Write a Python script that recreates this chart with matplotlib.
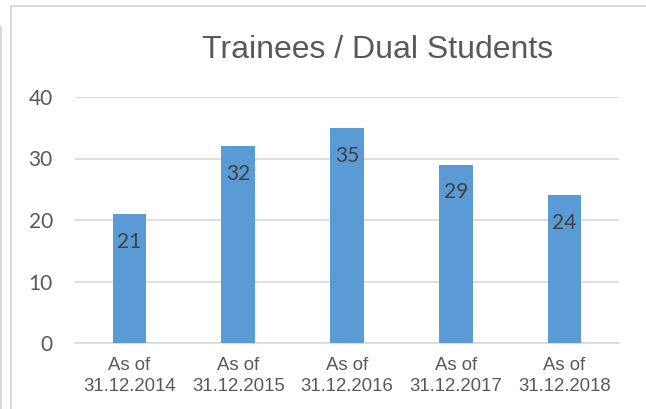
import matplotlib.pyplot as plt
from matplotlib.lines import Line2D

categories = ["As of\n31.12.2014", "As of\n31.12.2015", "As of\n31.12.2016",
              "As of\n31.12.2017", "As of\n31.12.2018"]
values = [21, 32, 35, 29, 24]
y_ticks = [0, 10, 20, 30, 40]

BAR = "#5B9BD5"
TEXT = "#595959"
GRID = "#D9D9D9"

fig = plt.figure(figsize=(6.46, 4.09), dpi=100)
ax = fig.add_axes([75 / 646, 66 / 409, 544 / 646, 246 / 409])

x = list(range(len(categories)))
bars = ax.bar(x, values, width=0.31, color=BAR, zorder=3)

for xi, v in zip(x, values):
    ax.annotate(str(v), (xi, v), xytext=(0, -20), textcoords="offset points",
                ha="center", va="center", fontsize=15, color="#404040",
                family="Lato", zorder=4)

ax.set_xlim(-0.5, len(categories) - 0.5)
ax.set_ylim(0, 40)
ax.set_yticks(y_ticks)
ax.set_yticklabels([str(t) for t in y_ticks], family="Lato", fontsize=15, color=TEXT)
ax.set_xticks(x)
ax.set_xticklabels(categories, family="Liberation Sans", fontsize=13.4,
                   color=TEXT, linespacing=1.3)
ax.tick_params(axis="both", length=0)
ax.tick_params(axis="y", pad=16)
ax.tick_params(axis="x", pad=10)

ax.grid(axis="y", color=GRID, linewidth=1.2, zorder=0)
for side in ["top", "right", "left"]:
    ax.spines[side].set_visible(False)
ax.spines["bottom"].set_color(GRID)
ax.spines["bottom"].set_linewidth(1.2)

fig.text(378 / 646, 1 - 50 / 409, "Trainees / Dual Students", ha="center",
         va="center", fontsize=23, color=TEXT, family="Liberation Sans")

# chart frame (partly cut off in the screenshot)
fig.add_artist(Line2D([11 / 646, 11 / 646], [0, 1 - 6 / 409], transform=fig.transFigure,
                      color=GRID, linewidth=1.5))
fig.add_artist(Line2D([11 / 646, 1], [1 - 6 / 409, 1 - 6 / 409], transform=fig.transFigure,
                      color=GRID, linewidth=1.5))
fig.add_artist(Line2D([1 / 646, 1 / 646], [0, 1 - 27 / 409], transform=fig.transFigure,
                      color=GRID, linewidth=1.5))

fig.savefig("out.png", dpi=100)
